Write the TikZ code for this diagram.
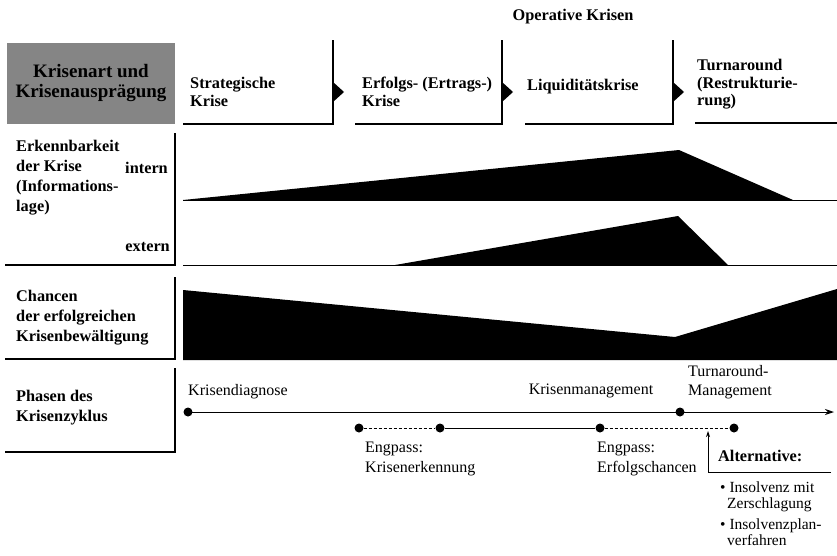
\documentclass[tikz,border=0pt]{standalone}
\usepackage{fontspec}
\setmainfont{Liberation Serif}
\usetikzlibrary{arrows.meta,positioning,calc}
\definecolor{boxGray}{HTML}{858585}

\begin{document}
\begin{tikzpicture}[
  x=1pt, y=-1pt,
  headtext/.style={font=\bfseries\fontsize{16.3}{17.5}\selectfont, align=left, anchor=north west, inner sep=0pt},
  rowlabel/.style={font=\bfseries\fontsize{16.3}{20}\selectfont, align=left, anchor=north west, inner sep=0pt},
  stage/.style={font=\fontsize{16}{19.5}\selectfont, align=left, anchor=north west, inner sep=0pt},
  bulletitem/.style={font=\fontsize{15.5}{16}\selectfont, align=left, anchor=north west, inner sep=0pt},
  frame/.style={line width=2pt},
  baseline/.style={line width=0.9pt},
  wedge/.style={fill=black},
  milestone/.style={circle, fill=black, minimum width=8pt, minimum height=9pt, inner sep=0pt},
  arrow/.style={-{Stealth[length=9pt, width=6pt]}, line width=1pt}
]
\useasboundingbox (0,0) rectangle (837,555);

% header
\node[font=\bfseries\fontsize{16.3}{17.5}\selectfont, inner sep=0pt] (operative) at (573,17) {Operative Krisen};
\node[rectangle, fill=boxGray, minimum width=168pt, minimum height=81pt, inner sep=0pt,
      font=\bfseries\fontsize{19}{20}\selectfont, align=center] (kind) at (91,83) {Krisenart und\\Krisenausprägung};
\node[headtext] (strategic) at (190,77) {Strategische\\Krise};
\node[headtext] (success) at (362,77) {Erfolgs- (Ertrags-)\\Krise};
\node[headtext] (liquidity) at (527,79) {Liquiditätskrise};
\node[headtext] (turnaround) at (697,59) {Turnaround\\(Restrukturie-\\rung)};
\draw[frame] (183,124) -- (333,124) -- (333,40);
\draw[frame] (355,124) -- (502,124) -- (502,40);
\draw[frame] (525,124) -- (673,124) -- (673,40);
\draw[frame] (695,123) -- (837,123);
\foreach \x in {333,502,673}
  \fill (\x,82) -- (\x+11,92) -- (\x,102) -- cycle;

% Erkennbarkeit
\node[rowlabel] (visibility) at (16,140) {Erkennbarkeit\\der Krise\\(Informations-\\lage)};
\node[rowlabel, anchor=north east] (intern) at (168,162) {intern};
\node[rowlabel, anchor=north east] (extern) at (170,242) {extern};
\draw[frame] (5,265) -- (175,265) -- (175,133);
\fill[wedge] (183,200) -- (679,150) -- (793,200) -- cycle;
\draw[baseline] (183,200) -- (837,200);
\fill[wedge] (395,265) -- (678,216) -- (728,265) -- cycle;
\draw[baseline] (183,265) -- (837,265);

% Chancen
\node[rowlabel] (chances) at (16,290) {Chancen\\der erfolgreichen\\Krisenbewältigung};
\draw[frame] (5,359) -- (175,359) -- (175,277);
\fill[wedge] (183,290) -- (675,337) -- (837,289) -- (837,360) -- (183,360) -- cycle;

% Phasen
\node[rowlabel] (phases) at (16,390) {Phasen des\\Krisenzyklus};
\draw[frame] (5,452) -- (175,452) -- (175,368);
\node[milestone] (diag) at (188,412) {};
\node[milestone] (turn) at (680,412) {};
\coordinate (axisend) at (834,412);
\draw[arrow] (diag.center) -- (axisend);
\node[stage] (diagnosis) at (188,384) {Krisendiagnose};
\node[stage, anchor=north] (management) at (591,384) {Krisenmanagement};
\node[stage] (tamanagement) at (688,365) {Turnaround-\\Management};

\node[milestone] (e1) at (359,428) {};
\node[milestone] (e2) at (440,428) {};
\node[milestone] (e3) at (600,428) {};
\node[milestone] (e4) at (734,428) {};
\draw[dash pattern=on 3pt off 2pt, line width=0.9pt] (e1) -- (e2);
\draw[line width=0.9pt] (e2) -- (e3);
\draw[dash pattern=on 3pt off 2pt, line width=0.9pt] (e3) -- (e4);
\node[stage] (recognition) at (365,442) {Engpass:\\Krisenerkennung};
\node[stage] (chancesneck) at (597,442) {Engpass:\\Erfolgschancen};

% Alternative
\coordinate (altfoot) at (708,472);
\coordinate (alttip) at (708,431);
\coordinate (altend) at (831,472);
\draw[-{Stealth[length=6pt, width=4pt]}, line width=0.9pt] (altend) -- (altfoot) -- (alttip);
\node[rowlabel] (alternative) at (718,450) {Alternative:};
\node[bulletitem] (breakup) at (720,482) {\textbullet\ Insolvenz mit\\\hspace*{7pt}Zerschlagung};
\node[bulletitem] (plan) at (720,519) {\textbullet\ Insolvenzplan-\\\hspace*{7pt}verfahren};
\end{tikzpicture}
\end{document}
